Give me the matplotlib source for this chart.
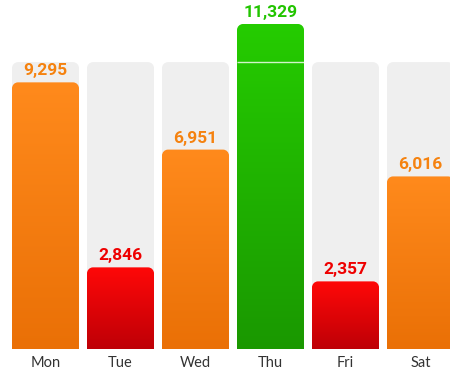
import numpy as np
import matplotlib
matplotlib.use("Agg")
import matplotlib.pyplot as plt
from matplotlib.path import Path
from matplotlib.patches import PathPatch
from matplotlib.colors import LinearSegmentedColormap

days = ["Mon", "Tue", "Wed", "Thu", "Fri", "Sat"]
steps = [9295, 2846, 6951, 11329, 2357, 6016]
goal = 10000

W, H, DPI = 450, 369, 100
fig = plt.figure(figsize=(W / DPI, H / DPI), dpi=DPI)
ax = fig.add_axes([0, 0, 1, 1])
ax.set_axis_off()

px_per_unit_x = 75.0
px_per_val = 325.0 / 11329.0
x0 = -45.5 / px_per_unit_x
ax.set_xlim(x0, x0 + W / px_per_unit_x)
ax.set_ylim(-20 / px_per_val, 349 / px_per_val)

bw = 67.0 / px_per_unit_x
rx = 6.0 / px_per_unit_x
ry = 6.0 / px_per_val


def top_rounded(xc, h):
    l, r = xc - bw / 2, xc + bw / 2
    k = 0.55
    verts = [(l, 0), (r, 0), (r, h - ry),
             (r, h - ry + k * ry), (r - rx + k * rx, h), (r - rx, h),
             (l + rx, h),
             (l + rx - k * rx, h), (l, h - ry + k * ry), (l, h - ry),
             (l, 0)]
    codes = [Path.MOVETO, Path.LINETO, Path.LINETO,
             Path.CURVE4, Path.CURVE4, Path.CURVE4,
             Path.LINETO,
             Path.CURVE4, Path.CURVE4, Path.CURVE4,
             Path.CLOSEPOLY]
    return Path(verts, codes)


def style(v):
    if v >= goal:
        return ("#25CC00", "#1A9800", "#22C400")
    if v < 5000:
        return ("#FF0808", "#BE0006", "#EE0000")
    return ("#FF8A1C", "#EA7006", "#F5820F")


for i, (d, v) in enumerate(zip(days, steps)):
    bg = PathPatch(top_rounded(i, goal), facecolor="#EFEFEF", edgecolor="none", zorder=1)
    ax.add_patch(bg)
    top_c, bot_c, txt_c = style(v)
    cmap = LinearSegmentedColormap.from_list("g", [bot_c, top_c])
    grad = np.linspace(0, 1, 256).reshape(-1, 1)
    patch = PathPatch(top_rounded(i, v), facecolor="none", edgecolor="none", zorder=2)
    ax.add_patch(patch)
    im = ax.imshow(grad, cmap=cmap, origin="lower", aspect="auto",
                   extent=(i - bw / 2, i + bw / 2, 0, v), zorder=2, interpolation="bilinear")
    im.set_clip_path(patch)
    if v > goal:
        ax.plot([i - bw / 2, i + bw / 2], [goal, goal], color="white", lw=1.0,
                alpha=0.8, zorder=3, solid_capstyle="butt")
    ax.annotate(f"{v:,}", (i, v), xytext=(0, 7), textcoords="offset pixels",
                ha="center", va="baseline", color=txt_c, fontsize=12.5,
                fontweight="bold", family="Roboto", zorder=4)
    ax.text(i, -18 / px_per_val, d, ha="center", va="baseline", color="#333333",
            fontsize=10.5, family="Lato", zorder=4)

ax.set_xlim(x0, x0 + W / px_per_unit_x)
ax.set_ylim(-20 / px_per_val, 349 / px_per_val)
fig.savefig("out.png", dpi=DPI)
